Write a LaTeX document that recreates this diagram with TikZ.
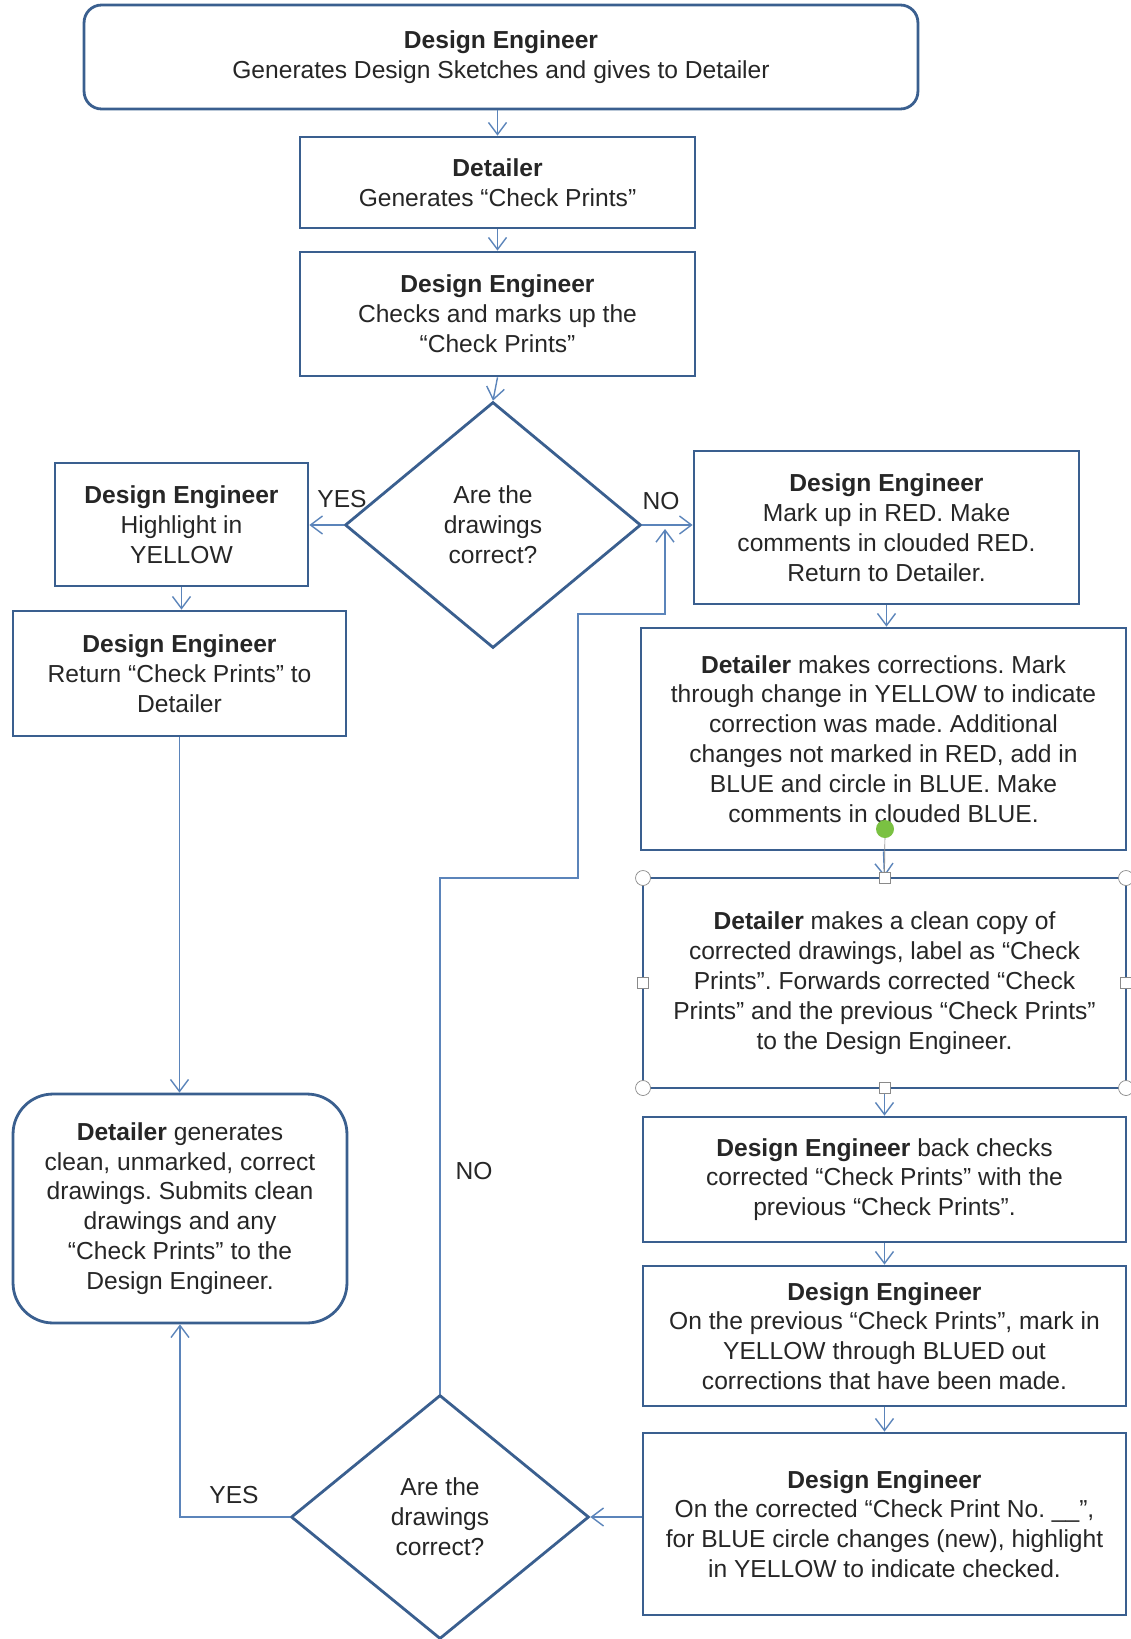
\documentclass[tikz,border=0pt]{standalone}
\usepackage{fontspec}
\setmainfont{Liberation Sans}
\usetikzlibrary{arrows.meta, shapes.geometric}
\definecolor{boxline}{HTML}{3A5F8F}
\definecolor{flowline}{HTML}{5B84BA}
\definecolor{handle}{HTML}{8A8A8A}
\definecolor{rotgreen}{HTML}{7AC142}
\frenchspacing

\begin{document}
\begin{tikzpicture}[x=0.02cm, y=-0.02cm, >={Straight Barb[length=2.4mm, width=3.6mm]},
    box/.style={draw=boxline, line width=1.6pt, align=center, inner sep=2pt,
        font=\fontsize{14}{17}\selectfont, text=black!85},
    decision/.style={box, diamond, inner sep=0pt},
    flow/.style={draw=flowline, line width=0.8pt},
    answer/.style={font=\fontsize{14}{17}\selectfont, text=black!85}]
    \useasboundingbox (0,0) rectangle (1130,1639);

    \node[box, rounded corners=0.35cm, minimum width=16.68cm, minimum height=2.08cm] (sketch) at (501,57)
        {\textbf{Design Engineer}\\Generates Design Sketches and gives to Detailer};
    \node[box, minimum width=7.9cm, minimum height=1.82cm] (prints) at (497.5,182.5)
        {\textbf{Detailer}\\Generates “Check Prints”};
    \node[box, minimum width=7.9cm, minimum height=2.48cm] (markup) at (497.5,314)
        {\textbf{Design Engineer}\\Checks and marks up the\\“Check Prints”};
    \node[decision, minimum width=5.92cm, minimum height=4.92cm] (firstq) at (493,525)
        {Are the\\drawings\\correct?};

    \node[box, minimum width=5.06cm, minimum height=2.46cm] (yellow) at (181.5,524.5)
        {\textbf{Design Engineer}\\Highlight in\\YELLOW};
    \node[box, minimum width=6.66cm, minimum height=2.5cm] (giveback) at (179.5,673.5)
        {\textbf{Design Engineer}\\Return “Check Prints” to\\Detailer};
    \node[box, rounded corners=0.8cm, minimum width=6.68cm, minimum height=4.58cm] (final) at (180,1208.5)
        {\textbf{Detailer} generates\\clean, unmarked, correct\\drawings. Submits clean\\drawings and any\\“Check Prints” to the\\Design Engineer.};

    \node[box, minimum width=7.7cm, minimum height=3.06cm] (red) at (886.5,527.5)
        {\textbf{Design Engineer}\\Mark up in RED. Make\\comments in clouded RED.\\Return to Detailer.};
    \node[box, minimum width=9.7cm, minimum height=4.44cm] (fixes) at (883.5,739)
        {\textbf{Detailer} makes corrections. Mark\\through change in YELLOW to indicate\\correction was made. Additional\\changes not marked in RED, add in\\BLUE and circle in BLUE. Make\\comments in clouded BLUE.};
    \node[box, minimum width=9.66cm, minimum height=4.2cm] (copy) at (884.5,983)
        {\textbf{Detailer} makes a clean copy of\\corrected drawings, label as “Check\\Prints”. Forwards corrected “Check\\Prints” and the previous “Check Prints”\\to the Design Engineer.};
    \node[box, minimum width=9.66cm, minimum height=2.5cm] (backcheck) at (884.5,1179.5)
        {\textbf{Design Engineer} back checks\\corrected “Check Prints” with the\\previous “Check Prints”.};
    \node[box, minimum width=9.66cm, minimum height=2.8cm] (blued) at (884.5,1336)
        {\textbf{Design Engineer}\\On the previous “Check Prints”, mark in\\YELLOW through BLUED out\\corrections that have been made.};
    \node[box, minimum width=9.66cm, minimum height=3.64cm] (newcheck) at (884.5,1524)
        {\textbf{Design Engineer}\\On the corrected “Check Print No. \_\_”,\\for BLUE circle changes (new), highlight\\in YELLOW to indicate checked.};
    \node[decision, minimum width=5.96cm, minimum height=4.88cm] (secondq) at (440,1517)
        {Are the\\drawings\\correct?};

    \coordinate (loopA) at (578,878);
    \coordinate (loopB) at (665,614);
    \coordinate (loopEnd) at (665,529);

    \draw[flow, ->] (prints.north |- sketch.south) -- (prints.north);
    \draw[flow, ->] (prints.south) -- (markup.north);
    \draw[flow, ->] (markup.south) -- (firstq.north);
    \draw[flow, ->] (firstq.west) -- (firstq.west -| yellow.east);
    \draw[flow, ->] (firstq.east) -- (firstq.east -| red.west);
    \draw[flow, ->] (yellow.south) -- (yellow.south |- giveback.north);
    \draw[flow, ->] (giveback.south) -- (giveback.south |- final.north);
    \draw[flow, ->] (red.south) -- (red.south |- fixes.north);
    \draw[flow, ->] (fixes.south) -- (copy.north);
    \draw[flow, ->] (copy.south) -- (backcheck.north);
    \draw[flow, ->] (backcheck.south) -- (blued.north);
    \draw[flow, ->] (blued.south) -- (newcheck.north);
    \draw[flow, ->] (newcheck.west |- secondq.east) -- (secondq.east);
    \draw[flow, ->] (secondq.west) -| (final.south);
    \draw[flow, ->] (secondq.north) |- (loopA) |- (loopB) -- (loopEnd);

    \node[answer] (yes1) at (342,499) {YES};
    \node[answer] (no1) at (661,501) {NO};
    \node[answer] (yes2) at (234,1495) {YES};
    \node[answer] (no2) at (474,1171) {NO};

    % selection handles
    \draw[handle] (885,829) -- (copy.north);
    \fill[rotgreen] (885,829) circle (0.18cm);
    \foreach \hx/\hy in {643/878, 1126/878, 643/1088, 1126/1088}
        \draw[handle, fill=white] (\hx,\hy) circle (0.15cm);
    \foreach \hx/\hy in {885/878, 885/1088, 643/983, 1126/983}
        \draw[handle, fill=white] (\hx,\hy) ++(-0.11cm,-0.11cm) rectangle ++(0.22cm,0.22cm);
\end{tikzpicture}
\end{document}
